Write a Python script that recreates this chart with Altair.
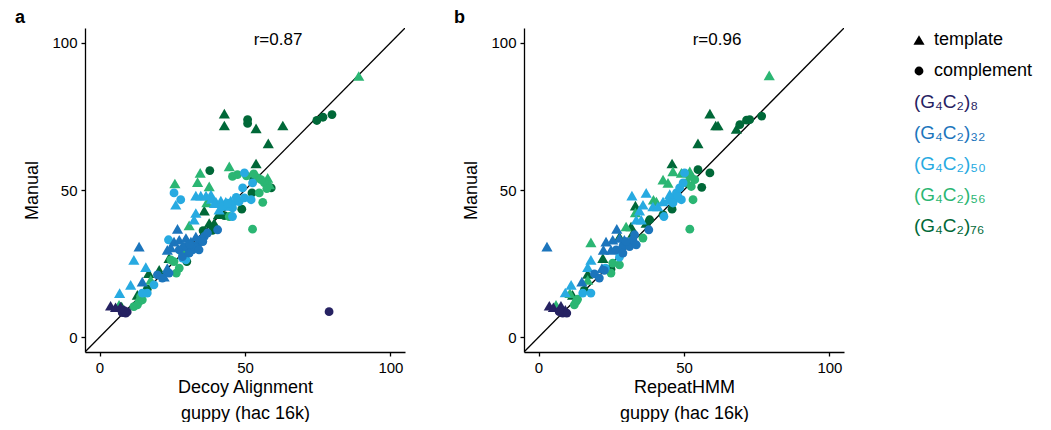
import altair as alt
import pandas as pd

# ---------------- data ----------------
constructs = ["8", "32", "50", "56", "76"]
construct_labels = ["(G₄C₂)₈", "(G₄C₂)₃₂", "(G₄C₂)₅₀", "(G₄C₂)₅₆", "(G₄C₂)₇₆"]
construct_colors = ["#262262", "#1C75BC", "#27AAE1", "#2BB673", "#006838"]
strands = ["template", "complement"]

# Panel a: Decoy Alignment vs Manual  (x, y)
a_c76_template = [(42.9, 75.9), (42.9, 71.9), (53.8, 70.9), (63.0, 71.9), (58.0, 65.8), (53.8, 59.0),
                  (36.0, 43.0), (37.7, 38.8), (39.4, 38.8), (40.9, 41.8), (23.9, 26.9), (16.9, 21.8),
                  (13.0, 14.4), (20.5, 22.9), (7.6, 10.4)]
a_c76_complement = [(50.9, 73.9), (50.9, 72.6), (74.7, 73.6), (76.8, 74.7), (79.9, 75.6), (37.9, 56.6),
                    (52.4, 49.0), (59.0, 50.7), (48.9, 43.5), (35.6, 36.2), (38.8, 36.3), (30.0, 25.7),
                    (16.4, 16.3), (42.9, 41.3), (53.0, 53.5)]
a_c56_template = [(89.1, 88.7), (25.9, 52.2), (34.6, 55.8), (33.7, 52.7), (44.6, 58.0), (37.7, 51.2),
                  (36.9, 45.8), (30.8, 38.0), (57.8, 54.1), (58.4, 51.9), (17.6, 19.5), (6.7, 11.0)]
a_c56_complement = [(45.7, 54.6), (47.4, 55.2), (52.6, 36.7), (56.1, 45.8), (54.9, 49.0), (56.7, 52.4),
                    (54.4, 54.1), (55.5, 53.5), (26.4, 21.8), (27.4, 23.5), (25.6, 25.7), (13.0, 11.0),
                    (11.8, 10.4), (13.6, 12.1), (14.7, 12.7), (14.1, 13.8), (28.5, 28.6), (44.6, 41.0),
                    (24.5, 26.3), (50.5, 54.8), (53.0, 55.5), (57.5, 50.5)]
a_c50_template = [(6.9, 15.0), (10.7, 17.8), (11.8, 26.3), (15.9, 23.8), (26.2, 45.0), (33.1, 48.1),
                  (34.8, 48.1), (36.6, 48.1), (38.3, 48.4), (32.5, 39.9), (33.1, 42.2), (40.0, 46.0),
                  (41.7, 46.4), (43.4, 46.0), (45.1, 46.4), (46.9, 46.4), (44.0, 44.6), (41.1, 43.3),
                  (38.5, 47.0), (39.5, 45.5)]
a_c50_complement = [(25.6, 49.0), (27.9, 46.7), (23.7, 33.1), (29.7, 26.3), (18.7, 17.8), (16.4, 15.0),
                    (14.7, 15.0), (42.3, 44.4), (45.7, 41.0), (45.7, 43.9), (48.0, 46.1), (49.8, 47.3),
                    (52.1, 46.7), (49.2, 50.7), (49.8, 55.8), (52.6, 52.4), (28.5, 26.9), (44.0, 45.5),
                    (47.0, 47.5)]
a_c32_template = [(13.6, 30.8), (26.8, 36.8), (23.3, 29.7), (25.6, 32.5), (27.4, 33.1), (29.7, 33.7),
                  (31.4, 32.5), (33.1, 34.2), (23.3, 23.5), (22.2, 20.6), (14.7, 18.9), (28.5, 31.0),
                  (24.5, 30.5)]
a_c32_complement = [(27.4, 29.7), (29.7, 30.8), (32.0, 29.7), (33.7, 31.4), (34.8, 33.1), (36.0, 34.2),
                    (28.5, 27.4), (30.8, 28.6), (32.6, 30.8), (40.6, 36.5), (19.9, 21.2), (21.6, 20.1),
                    (23.9, 21.8), (34.2, 29.7), (37.1, 35.4), (31.0, 31.5), (35.5, 32.5)]
a_c8_template = [(3.8, 10.7), (5.5, 10.2), (7.2, 10.4), (8.4, 9.3)]
a_c8_complement = [(7.8, 8.4), (9.0, 8.2), (9.5, 8.6), (8.5, 9.0), (78.9, 8.7)]

# Panel b: RepeatHMM vs Manual  (x, y)
b_c76_template = [(58.9, 75.9), (60.9, 71.9), (61.7, 71.9), (68.0, 70.7), (54.8, 65.8), (45.9, 59.0),
                  (33.3, 44.7), (37.0, 38.8), (31.8, 37.6), (32.4, 35.4), (27.8, 34.2), (22.1, 26.9),
                  (16.9, 21.5), (11.7, 14.4)]
b_c76_complement = [(69.2, 72.2), (71.5, 73.7), (72.6, 73.9), (76.7, 75.1), (54.8, 56.9), (58.9, 55.8),
                    (56.1, 50.9), (45.9, 43.5), (42.8, 41.6), (38.2, 39.9), (24.9, 23.1), (15.7, 15.9)]
b_c56_template = [(79.3, 88.9), (18.0, 32.2), (42.8, 53.5), (44.5, 52.4), (46.2, 56.3), (49.1, 55.8),
                  (52.0, 56.3), (39.5, 46.7), (40.5, 46.1), (33.3, 42.4), (30.1, 37.6), (10.8, 15.0),
                  (6.0, 11.0), (16.9, 19.5)]
b_c56_complement = [(52.0, 36.7), (53.1, 46.7), (52.0, 54.6), (53.7, 53.5), (50.8, 52.4), (52.5, 51.2),
                    (35.9, 33.7), (24.9, 21.8), (25.5, 25.2), (27.8, 24.6), (12.3, 11.0), (12.9, 12.1),
                    (13.4, 12.9)]
b_c50_template = [(9.2, 15.2), (11.2, 17.8), (16.9, 23.8), (18.0, 26.3), (32.1, 48.1), (37.0, 49.0),
                  (35.9, 45.0), (34.7, 43.0), (33.6, 39.9), (35.3, 39.9), (39.3, 44.4), (41.0, 44.4),
                  (42.8, 46.1), (44.5, 46.7), (46.2, 47.4), (45.1, 48.6)]
b_c50_complement = [(43.1, 41.0), (18.0, 15.0), (15.2, 15.0), (23.0, 23.5), (27.8, 27.2), (47.4, 49.0),
                    (48.5, 50.7), (49.7, 52.4), (50.2, 55.8), (49.1, 46.7), (47.9, 47.8), (46.2, 45.6)]
b_c32_template = [(2.9, 30.8), (26.9, 36.8), (23.2, 32.5), (25.5, 33.1), (29.5, 33.1), (27.8, 33.7),
                  (24.9, 29.7), (22.3, 29.7), (14.9, 18.9), (21.8, 23.5)]
b_c32_complement = [(26.7, 29.7), (29.0, 30.8), (31.3, 30.8), (32.4, 33.1), (33.0, 34.8), (29.0, 28.6),
                    (30.1, 32.5), (37.9, 36.5), (33.6, 31.4), (19.2, 21.5), (20.9, 20.1), (22.6, 22.7)]
b_c8_template = [(3.7, 10.7), (5.1, 10.2), (7.7, 10.7), (9.2, 9.3)]
b_c8_complement = [(8.3, 8.2), (9.7, 8.2), (7.1, 8.7)]

r_values = ["r=0.87", "r=0.96"]
x_titles = [["Decoy Alignment", "guppy (hac 16k)"], ["RepeatHMM", "guppy (hac 16k)"]]
panel_letters = ["a", "b"]
axis_ticks = [0, 50, 100]
diag = [-5, 105]

FONT = "Liberation Sans"


def build_df(groups):
    rows = []
    for construct, strand, pts in groups:
        for (x, y) in pts:
            rows.append({"x": x, "y": y, "construct": construct, "strand": strand})
    return pd.DataFrame(rows)


df_a = build_df([
    ("76", "template", a_c76_template), ("76", "complement", a_c76_complement),
    ("56", "template", a_c56_template), ("56", "complement", a_c56_complement),
    ("50", "template", a_c50_template), ("50", "complement", a_c50_complement),
    ("32", "template", a_c32_template), ("32", "complement", a_c32_complement),
    ("8", "template", a_c8_template), ("8", "complement", a_c8_complement),
])
df_b = build_df([
    ("76", "template", b_c76_template), ("76", "complement", b_c76_complement),
    ("56", "template", b_c56_template), ("56", "complement", b_c56_complement),
    ("50", "template", b_c50_template), ("50", "complement", b_c50_complement),
    ("32", "template", b_c32_template), ("32", "complement", b_c32_complement),
    ("8", "template", b_c8_template), ("8", "complement", b_c8_complement),
])

W, H = 320, 324
xscale = alt.Scale(domain=diag, nice=False, zero=False)
yscale = alt.Scale(domain=diag, nice=False, zero=False)


def panel(df, xtitle, rtext, letter, with_legend=False):
    xenc = alt.X("x:Q", scale=xscale,
                 axis=alt.Axis(values=axis_ticks, title=xtitle, format="d"))
    yenc = alt.Y("y:Q", scale=yscale,
                 axis=alt.Axis(values=axis_ticks, title="Manual", format="d"))
    line_df = pd.DataFrame({"x": diag, "y": diag})
    line = alt.Chart(line_df).mark_line(color="black", strokeWidth=1.3, clip=True).encode(
        x=alt.X("x:Q", scale=xscale, axis=alt.Axis(values=axis_ticks, title=xtitle, format="d")),
        y=alt.Y("y:Q", scale=yscale, axis=alt.Axis(values=axis_ticks, title="Manual", format="d")),
    )
    pts = alt.Chart(df).mark_point(filled=True, opacity=1, strokeWidth=0).encode(
        x=xenc, y=yenc,
        color=alt.Color("construct:N", scale=alt.Scale(domain=constructs, range=construct_colors), legend=None),
        shape=alt.Shape("strand:N", scale=alt.Scale(domain=strands, range=["triangle-up", "circle"]), legend=None),
        size=alt.Size("strand:N", scale=alt.Scale(domain=strands, range=[125, 78]), legend=None),
    )
    rtxt = alt.Chart(pd.DataFrame({"t": [rtext]})).mark_text(
        font=FONT, fontSize=17, color="black", align="center", baseline="middle"
    ).encode(text="t:N", x=alt.value(193), y=alt.value(12))
    let = alt.Chart(pd.DataFrame({"t": [letter]})).mark_text(
        font=FONT, fontSize=18, fontWeight="bold", color="black", align="left", baseline="middle"
    ).encode(text="t:N", x=alt.value(-70), y=alt.value(-10))
    layers = [line, pts, rtxt, let]
    if with_legend:
        sym_df = pd.DataFrame({"s": strands, "py": [12, 43]})
        sym = alt.Chart(sym_df).mark_point(filled=True, opacity=1, color="black", strokeWidth=0).encode(
            x=alt.value(395),
            y=alt.Y("py:Q", scale=None),
            shape=alt.Shape("s:N", scale=alt.Scale(domain=strands, range=["triangle-up", "circle"]), legend=None),
            size=alt.Size("s:N", scale=alt.Scale(domain=strands, range=[70, 22]), legend=None),
        )
        stxt = alt.Chart(sym_df).mark_text(
            font=FONT, fontSize=18, color="black", align="left", baseline="middle"
        ).encode(x=alt.value(410), y=alt.Y("py:Q", scale=None), text="s:N")
        leg_df = pd.DataFrame({"label": construct_labels, "construct": constructs,
                               "py": [74, 105, 136, 167, 198]})
        ltxt = alt.Chart(leg_df).mark_text(
            font=FONT, fontSize=19, align="left", baseline="middle"
        ).encode(
            x=alt.value(390), y=alt.Y("py:Q", scale=None), text="label:N",
            color=alt.Color("construct:N", scale=alt.Scale(domain=constructs, range=construct_colors), legend=None),
        )
        layers += [sym, stxt, ltxt]
    return alt.layer(*layers).properties(width=W, height=H)


pa = panel(df_a, x_titles[0], r_values[0], panel_letters[0])
pb = panel(df_b, x_titles[1], r_values[1], panel_letters[1], with_legend=True)

chart = alt.hconcat(pa, pb, spacing=49).properties(
    padding={"left": 15, "top": 9, "right": 0, "bottom": 0}
).configure_view(stroke=None).configure_axis(
    grid=False, domainColor="black", domainWidth=1.3, tickColor="black", tickWidth=1.3, tickSize=4,
    labelColor="black", titleColor="black", labelFont=FONT, titleFont=FONT, labelFontSize=15,
    titleFontSize=18, titleFontWeight="normal", labelPadding=4, titlePadding=8,
).configure_axisY(titlePadding=10).configure_axisX(titleLineHeight=26, titlePadding=3)

chart.save("out.html", embed_options={"renderer": "svg", "actions": False})
